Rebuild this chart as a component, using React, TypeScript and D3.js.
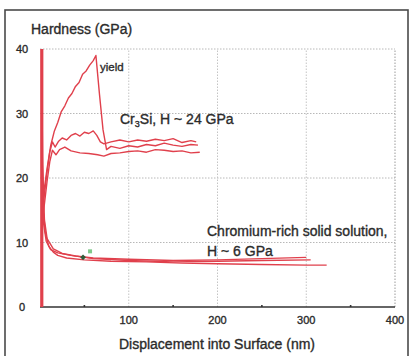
import React from "react";
import * as d3 from "d3";

// Cr3Si indents (displacement nm, hardness GPa)
const cr3siYield: [number, number][] = [
  [2, 15], [5, 18.5], [8, 21.5], [12, 25], [16, 27.2], [20, 28.6], [24, 30.3], [28, 31.2], [32, 32.4],
  [36, 33.1], [40, 34.2], [44, 34.8], [48, 36.1], [52, 36.6], [56, 37.5], [60, 38.2], [63, 39],
  [67, 33], [71, 27.5], [75, 24.4], [80, 24.9], [90, 24.6], [100, 25], [110, 24.8], [120, 25.2],
  [130, 25], [140, 25.4], [150, 25.1], [160, 24.9], [170, 25.2], [178, 25.1],
];
const cr3siHigh: [number, number][] = [
  [2, 14], [5, 17.5], [8, 21], [11, 24], [14, 25.6], [17, 24.8], [21, 25.7], [25, 26.2], [30, 25.9],
  [35, 26.6], [40, 26.9], [45, 26.5], [50, 27.1], [55, 26.9], [60, 27.3], [64, 26.6], [68, 25.6],
  [72, 25.3], [80, 25.6], [90, 25.9], [100, 25.6], [110, 25.9], [120, 25.7], [130, 26], [140, 25.8],
  [150, 26.1], [160, 25.5], [170, 25.8], [176, 25.6],
];
const cr3siLow: [number, number][] = [
  [2, 13], [5, 16], [8, 19.5], [11, 22.5], [14, 24.3], [18, 23.6], [22, 24.4], [28, 24.8], [35, 24.2],
  [45, 23.9], [55, 23.8], [65, 23.6], [72, 23.4], [80, 23.8], [90, 23.9], [100, 24.1], [110, 24.2],
  [120, 24], [130, 24.4], [140, 24.3], [150, 24.1], [160, 24.2], [170, 23.9], [180, 24],
];

// chromium-rich solid solution indents
const crRichA: [number, number][] = [
  [2, 30], [3, 19], [4, 14.5], [6, 11.5], [10, 9.4], [15, 8.5], [20, 8], [30, 7.6], [50, 7.3],
  [80, 7.1], [120, 7], [160, 6.8], [200, 6.7], [250, 6.6], [300, 6.5], [323, 6.5],
];
const crRichB: [number, number][] = [
  [2, 36], [3, 22], [5, 13.5], [8, 10.6], [15, 9], [25, 8.3], [40, 7.9], [60, 7.6], [100, 7.4],
  [150, 7.2], [200, 7.3], [250, 7.5], [300, 7.7],
];
const crRichC: [number, number][] = [
  [2, 25], [4, 13], [7, 10.2], [12, 8.9], [20, 8.4], [35, 8], [60, 7.5], [100, 7.2], [150, 7],
  [200, 7.1], [250, 7.2], [305, 7.3],
];
const contactLine: [number, number][] = [[2, 0], [2, 40]];
const markers: [number, number][] = [[48.5, 7.7]];

const xTicks = [100, 200, 300, 400];
const xMinor = [50, 150, 250, 350];
const yTicks = [0, 10, 20, 30, 40];

const RED = "#e0404c";
const TXT = "#2b2b2b";
const FONT = "'Liberation Sans', Arial, sans-serif";

export default function App() {
  const x = d3.scaleLinear().domain([0, 400]).range([40, 395]);
  const y = d3.scaleLinear().domain([0, 40]).range([307, 49]);
  const line = d3
    .line<[number, number]>()
    .x(d => x(d[0]))
    .y(d => y(d[1]));
  const curves = [cr3siYield, cr3siHigh, cr3siLow, crRichA, crRichB, crRichC];
  // blurry scan makes the lettering look heavier
  const txt = { fill: TXT, stroke: TXT, strokeWidth: 0.35 };

  return (
    <svg
      width={411}
      height={356}
      style={{ position: "absolute", left: 0, top: 0, background: "#fff" }}
      fontFamily={FONT}
    >
      {/* outer frame */}
      <rect x={5} y={10} width={403} height={360} fill="none" stroke="#4a4a4a" strokeWidth={1.6} />

      {/* grid */}
      {yTicks.filter(t => t > 0).map(t => (
        <line key={"gy" + t} x1={x(0)} x2={x(400)} y1={y(t)} y2={y(t)}
          stroke="#b8b8b8" strokeWidth={1} strokeDasharray="1.5,1.5" />
      ))}
      {xTicks.map(t => (
        <line key={"gx" + t} x1={x(t)} x2={x(t)} y1={y(0)} y2={y(40)}
          stroke={t === 400 ? "#9a9a9a" : "#c4c4c4"} strokeWidth={1} strokeDasharray="1.5,1.5" />
      ))}

      {/* x axis */}
      <line x1={x(0)} x2={x(400)} y1={y(0)} y2={y(0)} stroke="#333" strokeWidth={1.6} />
      {xMinor.map(t => (
        <line key={"mx" + t} x1={x(t)} x2={x(t)} y1={y(0) - 2} y2={y(0)} stroke="#333" strokeWidth={1.6} />
      ))}
      {xTicks.map(t => (
        <text key={"tx" + t} x={x(t)} y={y(0) + 17} textAnchor="middle" fontSize={11} {...txt}>
          {t}
        </text>
      ))}
      {yTicks.map(t => (
        <text key={"ty" + t} x={22} y={y(t) + 4} textAnchor="middle" fontSize={11} {...txt}>
          {t}
        </text>
      ))}

      {/* data */}
      <path d={line(contactLine) || ""} fill="none" stroke={RED} strokeWidth={3.2} />
      {curves.map((c, i) => (
        <path key={i} d={line(c) || ""} fill="none" stroke={RED} strokeWidth={1.4} strokeLinejoin="round" />
      ))}
      {markers.map((m, i) => (
        <g key={"m" + i}>
          <rect x={x(m[0]) - 2} y={y(m[1]) - 2} width={4} height={4} fill="#2f5d3a"
            transform={`rotate(45 ${x(m[0])} ${y(m[1])})`} />
          <rect x={x(m[0]) + 5} y={y(m[1]) - 8} width={4} height={4} fill="#7fc98a" />
        </g>
      ))}

      {/* labels */}
      <text x={31} y={34} fontSize={14} {...txt}>Hardness (GPa)</text>
      <text x={217} y={349} fontSize={14} textAnchor="middle" {...txt}>
        Displacement into Surface (nm)
      </text>
      <text x={100} y={71} fontSize={11.5} {...txt}>yield</text>
      <text x={120} y={124} fontSize={14} {...txt}>
        Cr<tspan fontSize={9} dy={3}>3</tspan>
        <tspan dy={-3}>Si, H ~ 24 GPa</tspan>
      </text>
      <text x={207} y={236} fontSize={14} {...txt}>Chromium-rich solid solution,</text>
      <text x={207} y={256} fontSize={14} {...txt}>H ~ 6 GPa</text>
    </svg>
  );
}
